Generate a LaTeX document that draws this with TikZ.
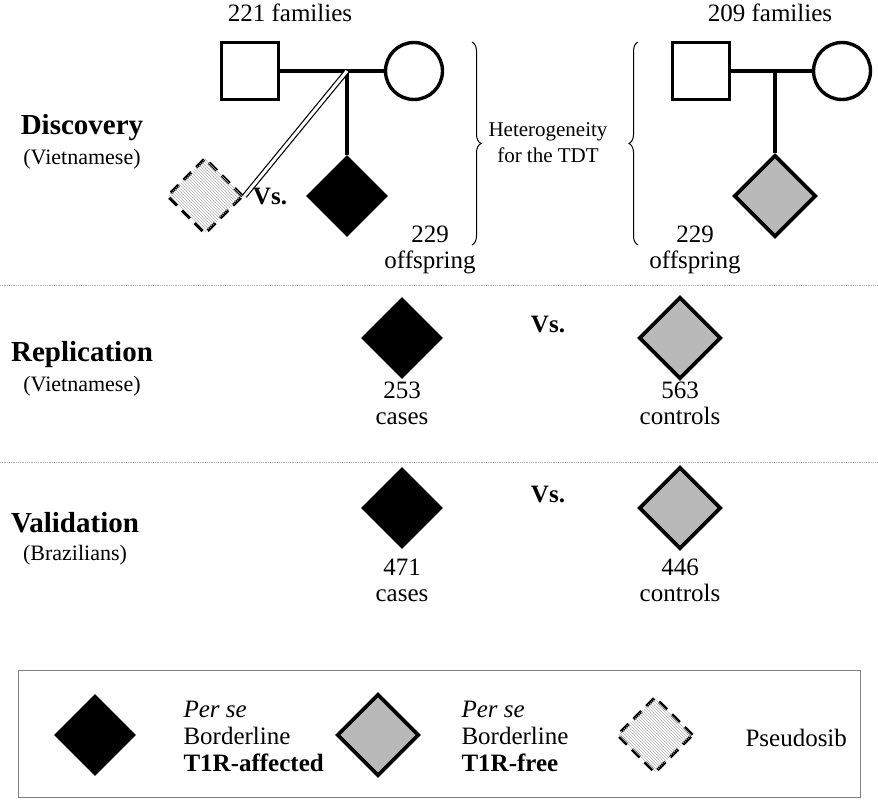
\documentclass[tikz,border=0pt]{standalone}
\usepackage{fontspec}
\setmainfont{Liberation Serif}
\usetikzlibrary{shapes.geometric, patterns, decorations.pathreplacing}

\tikzset{
  dia/.style={diamond, minimum size=82pt, inner sep=0pt},
  affected/.style={dia, fill=black},
  free/.style={dia, fill=gray!55, draw=black, line width=3.6pt},
  pseudo/.style={dia, minimum size=76pt, fill=white, draw=black, line width=3.2pt,
    dash pattern=on 11pt off 7pt, postaction={pattern=north west lines, pattern color=gray!60}},
  male/.style={rectangle, draw, line width=3.4pt, minimum size=57pt, inner sep=0pt},
  female/.style={circle, draw, line width=3.4pt, minimum size=57pt, inner sep=0pt},
  txt/.style={font=\fontsize{25}{29}\selectfont, align=center},
  sub/.style={font=\fontsize{22}{26}\selectfont},
  sec/.style={font=\fontsize{29}{33}\selectfont\bfseries},
  vs/.style={font=\fontsize{25}{29}\selectfont\bfseries},
  sep/.style={gray!60, densely dotted, line width=0.8pt}
}

\begin{document}
\begin{tikzpicture}[x=1pt, y=-1pt]
  \useasboundingbox (0,0) rectangle (878,800);
  % headers
  \node[txt] (fam1) at (290,13) {221 families};
  \node[txt] (fam2) at (770,13) {209 families};
  % discovery, left family
  \node[male] (f1) at (250,71) {};
  \node[female] (m1) at (414,71) {};
  \coordinate (j1) at (347,71);
  \node[affected] (c1) at (347,196) {};
  \node[pseudo] (ps) at (205,196) {};
  \draw[line width=3.4pt] (f1) -- (m1);
  \draw[line width=3.4pt] (j1) -- (c1.north);
  \draw[double, double distance=3pt, line width=1.2pt] (j1) -- (ps.east);
  \node[vs] (vs1) at (270,197) {Vs.};
  \node[txt] (off1) at (430,250) {229\\[-3pt]offspring};
  % discovery, right family
  \node[male] (f2) at (701,71) {};
  \node[female] (m2) at (842,71) {};
  \coordinate (j2) at (775,71);
  \node[free] (c2) at (775,196) {};
  \draw[line width=3.4pt] (f2) -- (m2);
  \draw[line width=3.4pt] (j2) -- (c2.north);
  \node[txt] (off2) at (695,250) {229\\[-3pt]offspring};
  % braces
  \draw[decorate, decoration={brace, amplitude=9pt}, line width=1pt] (472,42) -- (472,245);
  \draw[decorate, decoration={brace, amplitude=9pt}, line width=1pt] (638,245) -- (638,42);
  \node[txt, font=\fontsize{21}{26}\selectfont] (het) at (548,143) {Heterogeneity\\for the TDT};
  % section names
  \node[sec] (disc) at (82,128) {Discovery};
  \node[sub] (disc2) at (82,159) {(Vietnamese)};
  \node[sec] (repl) at (82,355) {Replication};
  \node[sub] (repl2) at (82,386) {(Vietnamese)};
  \node[sec] (vali) at (75,523) {Validation};
  \node[sub] (vali2) at (75,555) {(Brazilians)};
  \draw[sep] (0,285) -- (878,285);
  \draw[sep] (0,462) -- (878,462);
  % replication
  \node[affected] (r1) at (402,338) {};
  \node[free] (r2) at (680,338) {};
  \node[vs] (vs2) at (548,325) {Vs.};
  \node[txt] (r1t) at (402,403) {253\\[-3pt]cases};
  \node[txt] (r2t) at (680,403) {563\\[-3pt]controls};
  % validation
  \node[affected] (v1) at (402,508) {};
  \node[free] (v2) at (680,508) {};
  \node[vs] (vs3) at (548,494) {Vs.};
  \node[txt] (v1t) at (402,580) {471\\[-3pt]cases};
  \node[txt] (v2t) at (680,580) {446\\[-3pt]controls};
  % legend
  \draw[gray, line width=1pt] (18,670) rectangle (860,797);
  \node[affected] (l1) at (95,735) {};
  \node[txt, align=left, anchor=west] (l1t) at (180,736) {\textit{Per se}\\[-2pt]Borderline\\[-2pt]\textbf{T1R-affected}};
  \node[free] (l2) at (378,735) {};
  \node[txt, align=left, anchor=west] (l2t) at (458,736) {\textit{Per se}\\[-2pt]Borderline\\[-2pt]\textbf{T1R-free}};
  \node[pseudo] (l3) at (655,735) {};
  \node[txt, anchor=west] (l3t) at (742,738) {Pseudosib};
\end{tikzpicture}
\end{document}
